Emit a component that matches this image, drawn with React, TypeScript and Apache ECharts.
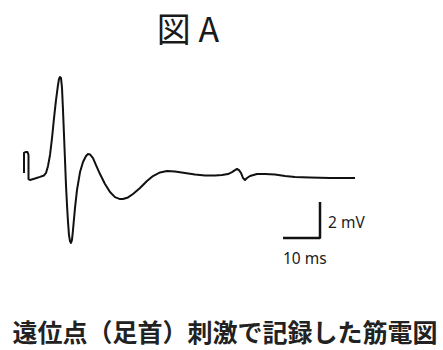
import React, { useEffect, useRef } from "react";
import * as echarts from "echarts";

// Waveform: [time (ms), amplitude (mV)]
const waveTime: number[] = [
  0, 0, 0.41, 0.95, 1.22, 1.22, 1.62, 2.97, 4.32, 5.41, 5.95, 6.49, 7.03, 7.57, 8.11, 8.65, 9.19, 9.46, 9.73, 10.0,
  10.27, 10.54, 10.81, 11.08, 11.35, 11.62, 11.89, 12.16, 12.43, 12.7, 12.97, 13.24, 13.78, 14.32, 15.14, 15.95,
  16.76, 17.3, 17.84, 18.65, 19.46, 20.54, 21.89, 23.24, 24.59, 25.95, 26.76, 28.11, 29.46, 31.35, 33.24, 34.86,
  36.76, 38.65, 40.81, 43.51, 46.22, 48.92, 51.62, 53.51, 55.14, 56.22, 57.03, 57.57, 58.11, 58.65, 59.19, 59.73,
  60.27, 61.08, 62.97, 65.14, 67.84, 70.54, 73.24, 77.3, 82.7, 89.46,
];
const waveMv: number[] = [
  0.28, 1.39, 1.44, 1.44, 1.28, -0.06, -0.11, -0.03, 0.06, 0.14, 0.28, 0.67, 1.28, 2.22, 3.33, 4.33, 5.17, 5.5, 5.61, 5.56,
  5.0, 3.78, 2.39, 1.0, -0.39, -1.5, -2.44, -3.17, -3.5, -3.61, -3.44, -2.89, -1.67, -0.67, 0.33, 0.89,
  1.22, 1.33, 1.31, 1.11, 0.72, 0.22, -0.33, -0.78, -1.06, -1.17, -1.17, -1.08, -0.89, -0.56, -0.17, 0.11,
  0.31, 0.39, 0.36, 0.28, 0.19, 0.14, 0.14, 0.17, 0.22, 0.33, 0.44, 0.5, 0.44, 0.28, 0, -0.11,
  0, 0.11, 0.22, 0.22, 0.19, 0.11, 0.06, 0.03, 0, 0,
];

// Scale bar: 10 ms horizontal, 2 mV vertical
const scaleTime: number[] = [70, 80, 80];
const scaleMv: number[] = [-3.33, -3.33, -1.33];

const titleText = "図 A";
const captionText = "遠位点（足首）刺激で記録した筋電図";
const mvLabel = "2 mV";
const msLabel = "10 ms";

export default function App() {
  const ref = useRef<HTMLDivElement>(null);
  useEffect(() => {
    if (!ref.current) return;
    const chart = echarts.init(ref.current, null, { renderer: "svg" });
    const wave = waveTime.map((t, i) => [t, waveMv[i]]);
    const bar = scaleTime.map((t, i) => [t, scaleMv[i]]);
    chart.setOption({
      animation: false,
      backgroundColor: "#ffffff",
      grid: { left: 24, top: 70, width: 370, height: 198 },
      xAxis: { type: "value", min: 0, max: 100, show: false },
      yAxis: { type: "value", min: -5, max: 6, show: false },
      series: [
        {
          type: "line",
          data: wave,
          showSymbol: false,
          smooth: false,
          lineStyle: { color: "#111111", width: 2, join: "round" },
        },
        {
          type: "line",
          data: bar,
          showSymbol: false,
          lineStyle: { color: "#111111", width: 2.5 },
        },
      ],
      graphic: [
        {
          type: "text",
          x: 188,
          y: 27,
          style: {
            text: titleText,
            font: '34px "Noto Sans CJK JP"',
            fill: "#1a1a1a",
            align: "center",
            verticalAlign: "middle",
          },
        },
        {
          type: "text",
          x: 328,
          y: 222,
          style: {
            text: mvLabel,
            font: '15.5px "Noto Sans"',
            fill: "#1a1a1a",
            align: "left",
            verticalAlign: "middle",
          },
        },
        {
          type: "text",
          x: 283,
          y: 258,
          style: {
            text: msLabel,
            font: '15.5px "Noto Sans"',
            fill: "#1a1a1a",
            align: "left",
            verticalAlign: "middle",
          },
        },
        {
          type: "text",
          x: 225,
          y: 331,
          style: {
            text: captionText,
            font: 'bold 25px "Noto Sans CJK JP"',
            fill: "#222222",
            align: "center",
            verticalAlign: "middle",
          },
        },
      ],
    });
    return () => chart.dispose();
  }, []);
  return (
    <div
      ref={ref}
      style={{ position: "absolute", left: 0, top: 0, width: 443, height: 350 }}
    />
  );
}
